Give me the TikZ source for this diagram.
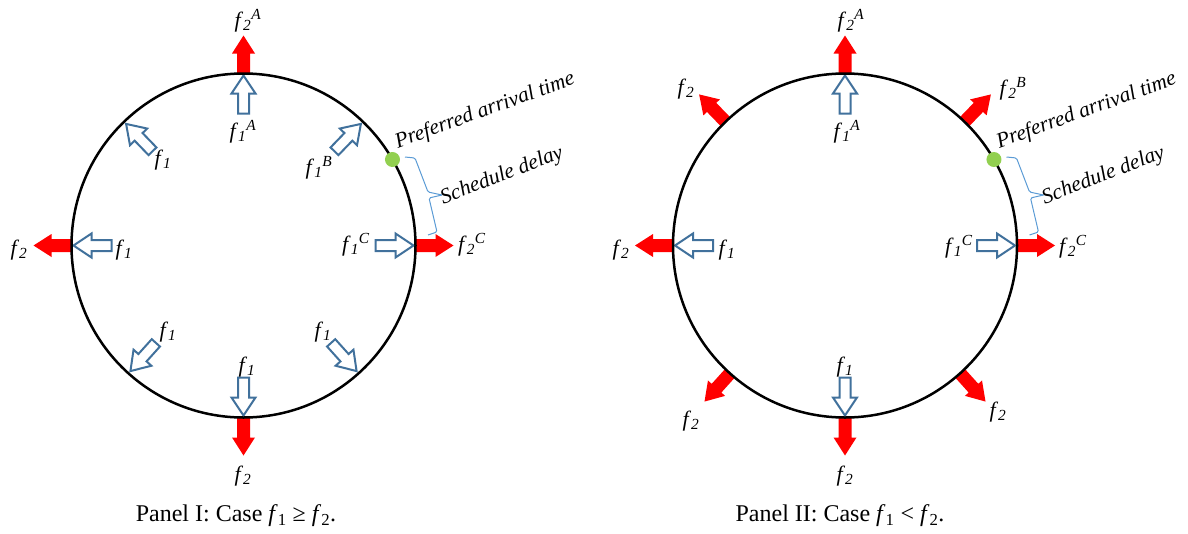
\documentclass[tikz,border=0pt]{standalone}
\usepackage{fontspec}
\setmainfont{Liberation Serif}
\usetikzlibrary{calc}
\definecolor{arrowblue}{RGB}{65,113,156}
\definecolor{dotgreen}{RGB}{146,208,80}
\definecolor{bracecol}{RGB}{91,155,213}
\definecolor{arrowred}{RGB}{255,0,0}
\newcommand{\fsa}[2]{\textit{f}\textsubscript{\textit{#1}}\textsuperscript{\textit{#2}}}
\newcommand{\fsb}[1]{\textit{f}\textsubscript{\textit{#1}}}
\newcommand{\fsc}[1]{\textit{f}\textsubscript{#1}}
\begin{document}
\begin{tikzpicture}[x=1pt,y=-1pt,
 lbl/.style={font=\fontsize{22}{26}\selectfont, inner sep=0pt},
 note/.style={font=\fontsize{21.5}{26}\selectfont\itshape, inner sep=0pt},
 captext/.style={font=\fontsize{24}{28}\selectfont, inner sep=0pt},
 ring/.style={draw=black, line width=2.5pt},
 dot/.style={circle, fill=dotgreen, minimum size=15pt, inner sep=0pt},
 bracestyle/.style={draw=bracecol, line width=1pt, rounded corners=1.5pt},
 pics/outarrow/.style={code={\fill[arrowred] (0,-6.5) -- (20,-6.5) -- (20,-11.5) -- (38,0) -- (20,11.5) -- (20,6.5) -- (0,6.5) -- cycle;}},
 pics/inarrow/.style={code={\draw[arrowblue, line width=2pt, fill=white, line join=miter] (-40,-5.5) -- (-20,-5.5) -- (-20,-12) -- (-2,0) -- (-20,12) -- (-20,5.5) -- (-40,5.5) -- cycle;}},
]
\useasboundingbox (0,0) rectangle (1188,533);
\coordinate (c1) at (243.5,245.5);
\coordinate (c2) at (845,245.5);

% ---------- Panel I arrows ----------
\foreach \t in {0,90,180,270} {
  \pic[rotate=\t] at ($(c1)+(-\t:172)$) {outarrow};
  \pic[rotate=\t] at ($(c1)+(-\t:172)$) {inarrow};
}
\foreach \t in {46,134,228,312} {
  \pic[rotate=\t] at ($(c1)+(-\t:171)$) {inarrow};
}
% ---------- Panel II arrows ----------
\foreach \t in {0,90,180,270} {
  \pic[rotate=\t] at ($(c2)+(-\t:172)$) {outarrow};
  \pic[rotate=\t] at ($(c2)+(-\t:172)$) {inarrow};
}
\foreach \t in {46,134,228,312} {
  \pic[rotate=\t] at ($(c2)+(-\t:172)$) {outarrow};
}

% ---------- circles ----------
\draw[ring] (c1) circle[radius=172];
\draw[ring] (c2) circle[radius=172];

% ---------- preferred arrival time, brace, schedule delay ----------
\foreach \dx/\p in {0/1, 601.5/2} {
  \node[dot] (pat\p) at ($(c\p)+(-30:172)$) {};
  \draw[bracestyle] (405+\dx,157) -- (415+\dx,158) -- (428+\dx,192) -- (442+\dx,195);
  \draw[bracestyle] (442+\dx,195) -- (429+\dx,198) -- (437+\dx,232) -- (428+\dx,235);
  \node[note, rotate=20] (pref\p) at (485+\dx,111) {Preferred arrival time};
  \node[note, rotate=21] (sd\p) at (502+\dx,176) {Schedule delay};
}

% ---------- Panel I labels ----------
\node[lbl] (a2A) at (248,21) {\fsa{2}{A}};
\node[lbl] (a1A) at (243,132) {\fsa{1}{A}};
\node[lbl] (a1ul) at (163,160) {\fsb{1}};
\node[lbl] (a1B) at (319,168) {\fsa{1}{B}};
\node[lbl] (a1C) at (356,245) {\fsa{1}{C}};
\node[lbl] (a2C) at (472,245) {\fsa{2}{C}};
\node[lbl] (a2l) at (19,250) {\fsb{2}};
\node[lbl] (a1l) at (124,250) {\fsb{1}};
\node[lbl] (a1ll) at (168,332) {\fsb{1}};
\node[lbl] (a1lr) at (323,332) {\fsb{1}};
\node[lbl] (a1b) at (247,367) {\fsb{1}};
\node[lbl] (a2b) at (243,476) {\fsb{2}};
\node[captext] (capI) at (236,516) {Panel I: Case \fsc{1} ≥ \fsc{2}.};

% ---------- Panel II labels ----------
\node[lbl] (b2A) at (851,21) {\fsa{2}{A}};
\node[lbl] (b1A) at (847,132) {\fsa{1}{A}};
\node[lbl] (b2ul) at (686,89) {\fsb{2}};
\node[lbl] (b2B) at (1013,89) {\fsa{2}{B}};
\node[lbl] (b1C) at (959,247) {\fsa{1}{C}};
\node[lbl] (b2C) at (1073,247) {\fsa{2}{C}};
\node[lbl] (b2l) at (621,250) {\fsb{2}};
\node[lbl] (b1l) at (727,250) {\fsb{1}};
\node[lbl] (b1b) at (845,367) {\fsb{1}};
\node[lbl] (b2ll) at (691,421) {\fsb{2}};
\node[lbl] (b2lr) at (998,412) {\fsb{2}};
\node[lbl] (b2b) at (845,476) {\fsb{2}};
\node[captext] (capII) at (840,516) {Panel II: Case \fsc{1} < \fsc{2}.};
\end{tikzpicture}
\end{document}
